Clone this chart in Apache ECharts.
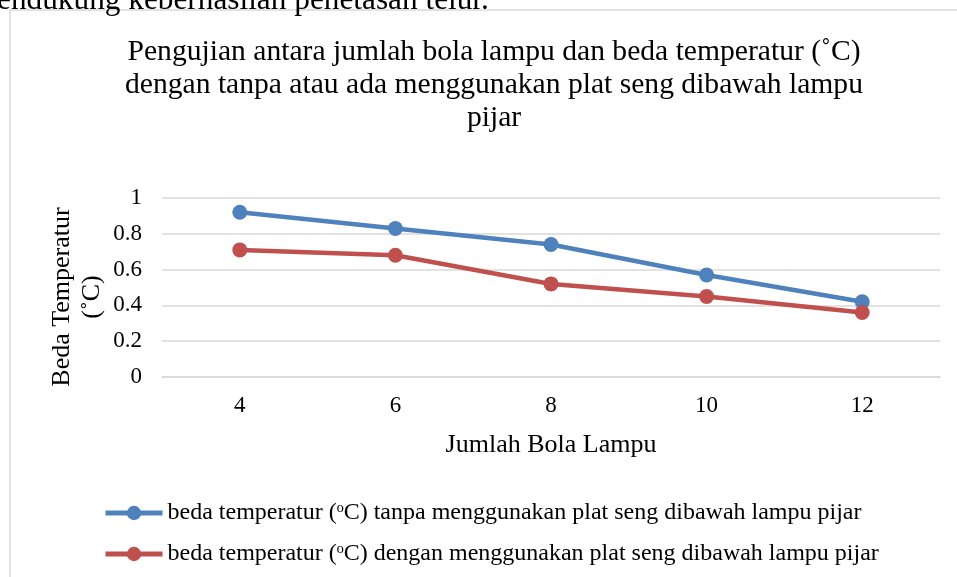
<!DOCTYPE html>
<html><head><meta charset="utf-8">
<script src="https://cdn.jsdelivr.net/npm/echarts@6/dist/echarts.min.js"></script>
<style>html,body{margin:0;padding:0;background:#fff;}#c{width:957px;height:577px;}</style>
</head><body><div id="c"></div>
<script>
const categories = ['4', '6', '8', '10', '12'];
const tanpaPlat = [0.92, 0.83, 0.74, 0.57, 0.42];
const denganPlat = [0.71, 0.68, 0.52, 0.45, 0.36];
const seriesNames = [
  'beda temperatur (ᵒC) tanpa menggunakan plat seng dibawah lampu pijar',
  'beda temperatur (ᵒC) dengan menggunakan plat seng dibawah lampu pijar'
];
const FONT = 'Liberation Serif';
const legendBase = {
  orient: 'horizontal', left: 98,
  itemWidth: 57, itemHeight: 18,
  lineStyle: { width: 5 },
  textStyle: { fontFamily: FONT, fontSize: 24, color: '#000' }
};
const chart = echarts.init(document.getElementById('c'));
chart.setOption({
  animation: false,
  textStyle: { fontFamily: FONT },
  title: {
    text: 'Pengujian antara jumlah bola lampu dan beda temperatur (˚C)\ndengan tanpa atau ada menggunakan plat seng dibawah lampu\npijar',
    left: 489, top: 31, textAlign: 'center',
    textStyle: { fontFamily: FONT, fontSize: 29.6, fontWeight: 'normal', color: '#000', lineHeight: 33 }
  },
  graphic: [
    { type: 'rect', shape: { x: 10, y: 10, width: 960, height: 580 }, style: { fill: 'none', stroke: '#d9d9d9', lineWidth: 1.5 } },
    { type: 'text', x: -3, y: 16, style: { text: 'endukung keberhasilan penetasan telur.', fontFamily: FONT, fontSize: 31.3, fill: '#000', verticalAlign: 'bottom' } },
    { type: 'text', x: 77, y: 297, rotation: Math.PI / 2, style: { text: 'Beda Temperatur\n(˚C)', fontFamily: FONT, fontSize: 26, lineHeight: 30, fill: '#000', align: 'center', verticalAlign: 'middle' } }
  ],
  legend: [
    Object.assign({}, legendBase, { top: 496, data: [seriesNames[0]] }),
    Object.assign({}, legendBase, { top: 537, data: [seriesNames[1]] })
  ],
  grid: { left: 162, right: 17, top: 198, bottom: 200 },
  xAxis: {
    type: 'category', data: categories, boundaryGap: true,
    name: 'Jumlah Bola Lampu', nameLocation: 'middle', nameGap: 55,
    nameTextStyle: { fontFamily: FONT, fontSize: 26, color: '#000' },
    axisLine: { lineStyle: { color: '#d9d9d9', width: 1.5 } },
    axisTick: { show: false },
    axisLabel: { fontFamily: FONT, fontSize: 23, color: '#000', margin: 17 }
  },
  yAxis: {
    type: 'value', min: 0, max: 1, interval: 0.2,
    axisLine: { show: false }, axisTick: { show: false },
    splitLine: { lineStyle: { color: '#d9d9d9', width: 1.5 } },
    axisLabel: { fontFamily: FONT, fontSize: 23, color: '#000', margin: 20 }
  },
  series: [
    { name: seriesNames[0], type: 'line', data: tanpaPlat, symbol: 'circle', symbolSize: 15,
      itemStyle: { color: '#4f81bd' }, lineStyle: { color: '#4f81bd', width: 4.5 } },
    { name: seriesNames[1], type: 'line', data: denganPlat, symbol: 'circle', symbolSize: 15,
      itemStyle: { color: '#c0504d' }, lineStyle: { color: '#c0504d', width: 4.5 } }
  ]
});
</script></body></html>
